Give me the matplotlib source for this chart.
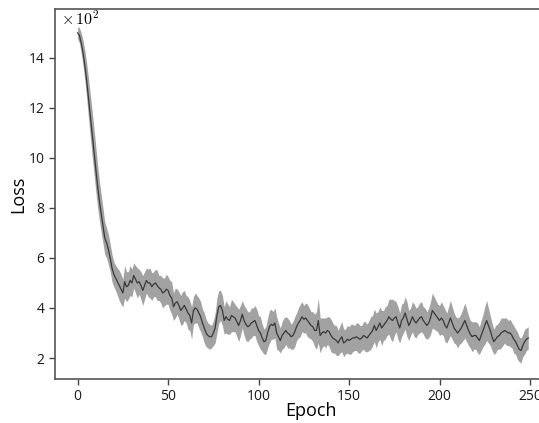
import numpy as np
import matplotlib
matplotlib.use("Agg")
import matplotlib.pyplot as plt

plt.rcParams['font.family'] = ['Open Sans', 'DejaVu Sans']
plt.rcParams['mathtext.fontset'] = 'cm'

# mean loss per epoch (x 10^2)
loss_mean = [
    15.0, 14.9, 14.6, 14.2, 13.7, 13.1, 12.4, 11.7, 11.0, 10.3,
    9.6, 8.9, 8.3, 7.8, 7.3, 6.8, 6.6, 6.35, 6.0, 5.6,
    5.35, 5.2, 5.05, 4.9, 4.75, 4.6, 5.05, 4.85, 4.9, 5.1,
    5.0, 5.3, 5.15, 5.0, 5.05, 4.9, 4.7, 4.9, 5.1, 5.0,
    5.0, 4.85, 4.95, 5.0, 4.9, 4.8, 4.75, 4.6, 4.65, 4.75,
    4.7, 4.5, 4.4, 4.05, 4.2, 4.25, 4.1, 3.9, 4.0, 4.1,
    3.95, 3.8, 3.7, 3.4, 3.9, 4.0, 3.95, 3.8, 3.65, 3.4,
    3.2, 3.0, 2.9, 2.85, 2.85, 3.0, 3.2, 3.7, 4.05, 4.1,
    3.9, 3.5, 3.65, 3.55, 3.5, 3.7, 3.65, 3.6, 3.45, 3.3,
    3.5, 3.75, 3.5, 3.35, 3.25, 3.3, 3.4, 3.45, 3.5, 3.3,
    3.1, 3.0, 2.8, 2.65, 2.7, 3.0, 3.25, 3.35, 3.3, 3.4,
    3.0, 2.85, 2.7, 2.9, 3.0, 3.1, 3.0, 2.95, 2.85, 2.9,
    3.05, 3.25, 3.4, 3.5, 3.65, 3.55, 3.6, 3.5, 3.4, 3.3,
    3.25, 3.1, 3.1, 3.5, 2.9, 3.0, 3.05, 3.0, 3.1, 3.05,
    2.9, 2.8, 2.75, 2.7, 2.6, 2.75, 2.85, 2.6, 2.65, 2.75,
    2.7, 2.75, 2.8, 2.8, 2.85, 2.8, 2.75, 2.8, 2.9, 2.85,
    2.8, 2.9, 3.0, 3.1, 3.3, 3.1, 3.25, 3.4, 3.2, 3.3,
    3.4, 3.5, 3.65, 3.55, 3.5, 3.6, 3.65, 3.4, 3.2, 3.5,
    3.6, 3.8, 3.55, 3.3, 3.45, 3.65, 3.5, 3.4, 3.5, 3.6,
    3.65, 3.5, 3.4, 3.3, 3.4, 3.6, 3.9, 3.8, 3.7, 3.6,
    3.5, 3.6, 3.5, 3.3, 3.2, 3.4, 3.6, 3.4, 3.2, 3.1,
    3.0, 3.1, 3.2, 3.35, 3.5, 3.3, 3.1, 2.95, 2.85, 2.9,
    2.9, 2.8, 2.7, 2.9, 3.1, 3.3, 3.5, 3.3, 3.1, 2.85,
    2.65, 2.75, 2.85, 2.9, 3.0, 3.05, 3.1, 3.05, 3.0, 3.0,
    2.9, 2.75, 2.65, 2.5, 2.35, 2.3, 2.5, 2.65, 2.75, 2.8,
]

# spread of the shaded band per epoch
loss_std = [
    0.25, 0.3, 0.4, 0.5, 0.6, 0.7, 0.8, 0.85, 0.9, 0.9,
    0.9, 0.85, 0.8, 0.75, 0.7, 0.65, 0.6, 0.6, 0.55, 0.55,
    0.5, 0.5, 0.55, 0.6, 0.6, 0.55, 0.65, 0.6, 0.55, 0.6,
    0.55, 0.5, 0.55, 0.6, 0.5, 0.55, 0.6, 0.55, 0.5, 0.55,
    0.6, 0.55, 0.5, 0.55, 0.6, 0.5, 0.55, 0.6, 0.55, 0.6,
    0.55, 0.6, 0.65, 0.55, 0.6, 0.5, 0.55, 0.6, 0.65, 0.6,
    0.55, 0.65, 0.6, 0.65, 0.55, 0.6, 0.55, 0.6, 0.6, 0.55,
    0.6, 0.55, 0.5, 0.5, 0.45, 0.5, 0.6, 0.7, 0.65, 0.6,
    0.6, 0.55, 0.65, 0.6, 0.55, 0.65, 0.6, 0.55, 0.6, 0.65,
    0.6, 0.55, 0.6, 0.65, 0.6, 0.55, 0.6, 0.55, 0.6, 0.65,
    0.6, 0.65, 0.55, 0.5, 0.55, 0.6, 0.65, 0.6, 0.55, 0.6,
    0.65, 0.55, 0.5, 0.55, 0.6, 0.55, 0.6, 0.55, 0.5, 0.55,
    0.6, 0.55, 0.6, 0.65, 0.6, 0.55, 0.6, 0.65, 0.6, 0.55,
    0.6, 0.65, 0.75, 0.9, 0.7, 0.6, 0.55, 0.6, 0.55, 0.6,
    0.65, 0.6, 0.55, 0.6, 0.5, 0.55, 0.6, 0.55, 0.5, 0.55,
    0.55, 0.6, 0.55, 0.5, 0.55, 0.6, 0.55, 0.5, 0.55, 0.6,
    0.55, 0.6, 0.65, 0.6, 0.65, 0.7, 0.6, 0.65, 0.7, 0.6,
    0.65, 0.6, 0.7, 0.8, 0.85, 0.7, 0.6, 0.65, 0.6, 0.65,
    0.6, 0.65, 0.7, 0.6, 0.55, 0.6, 0.65, 0.6, 0.55, 0.6,
    0.6, 0.55, 0.6, 0.55, 0.6, 0.65, 0.7, 0.65, 0.6, 0.55,
    0.6, 0.65, 0.6, 0.65, 0.6, 0.65, 0.7, 0.65, 0.6, 0.55,
    0.6, 0.55, 0.6, 0.65, 0.7, 0.65, 0.6, 0.55, 0.6, 0.55,
    0.55, 0.6, 0.55, 0.6, 0.65, 0.75, 0.8, 0.7, 0.6, 0.55,
    0.5, 0.55, 0.5, 0.55, 0.6, 0.55, 0.5, 0.55, 0.5, 0.55,
    0.5, 0.55, 0.5, 0.55, 0.5, 0.5, 0.45, 0.5, 0.45, 0.45,
]

epochs = np.arange(len(loss_mean))
mean = np.array(loss_mean)
std = np.array(loss_std)

fig = plt.figure(figsize=(5.39, 4.23), dpi=100)
# right edge of the axes runs past the figure, as in the cropped reference
ax = fig.add_axes([0.102, 0.104, 0.92, 0.875])

ax.fill_between(epochs, mean - std, mean + std, color='#a2a2a2', linewidth=0)
ax.plot(epochs, mean, color='#383838', linewidth=0.9)

ax.set_xlim(-12.5, 261.5)
ax.set_ylim(1.16, 15.96)
ax.set_xticks([0, 50, 100, 150, 200, 250])
ax.set_yticks([2, 4, 6, 8, 10, 12, 14])
ax.tick_params(labelsize=10, length=4, width=1, color='#444444', labelcolor='#1a1a1a')

for side in ['left', 'bottom', 'top', 'right']:
    ax.spines[side].set_color('#555555')
    ax.spines[side].set_linewidth(1.2)

ax.set_xlabel('Epoch', fontsize=13)
ax.set_ylabel('Loss', fontsize=13)
ax.xaxis.set_label_coords(0.516, -0.063)
ax.yaxis.set_label_coords(-0.056, 0.5)

ax.text(0.012, 0.995, r'$\times\,10^2$', transform=ax.transAxes,
        fontsize=11.5, ha='left', va='top')

fig.savefig('out.png', dpi=100)
